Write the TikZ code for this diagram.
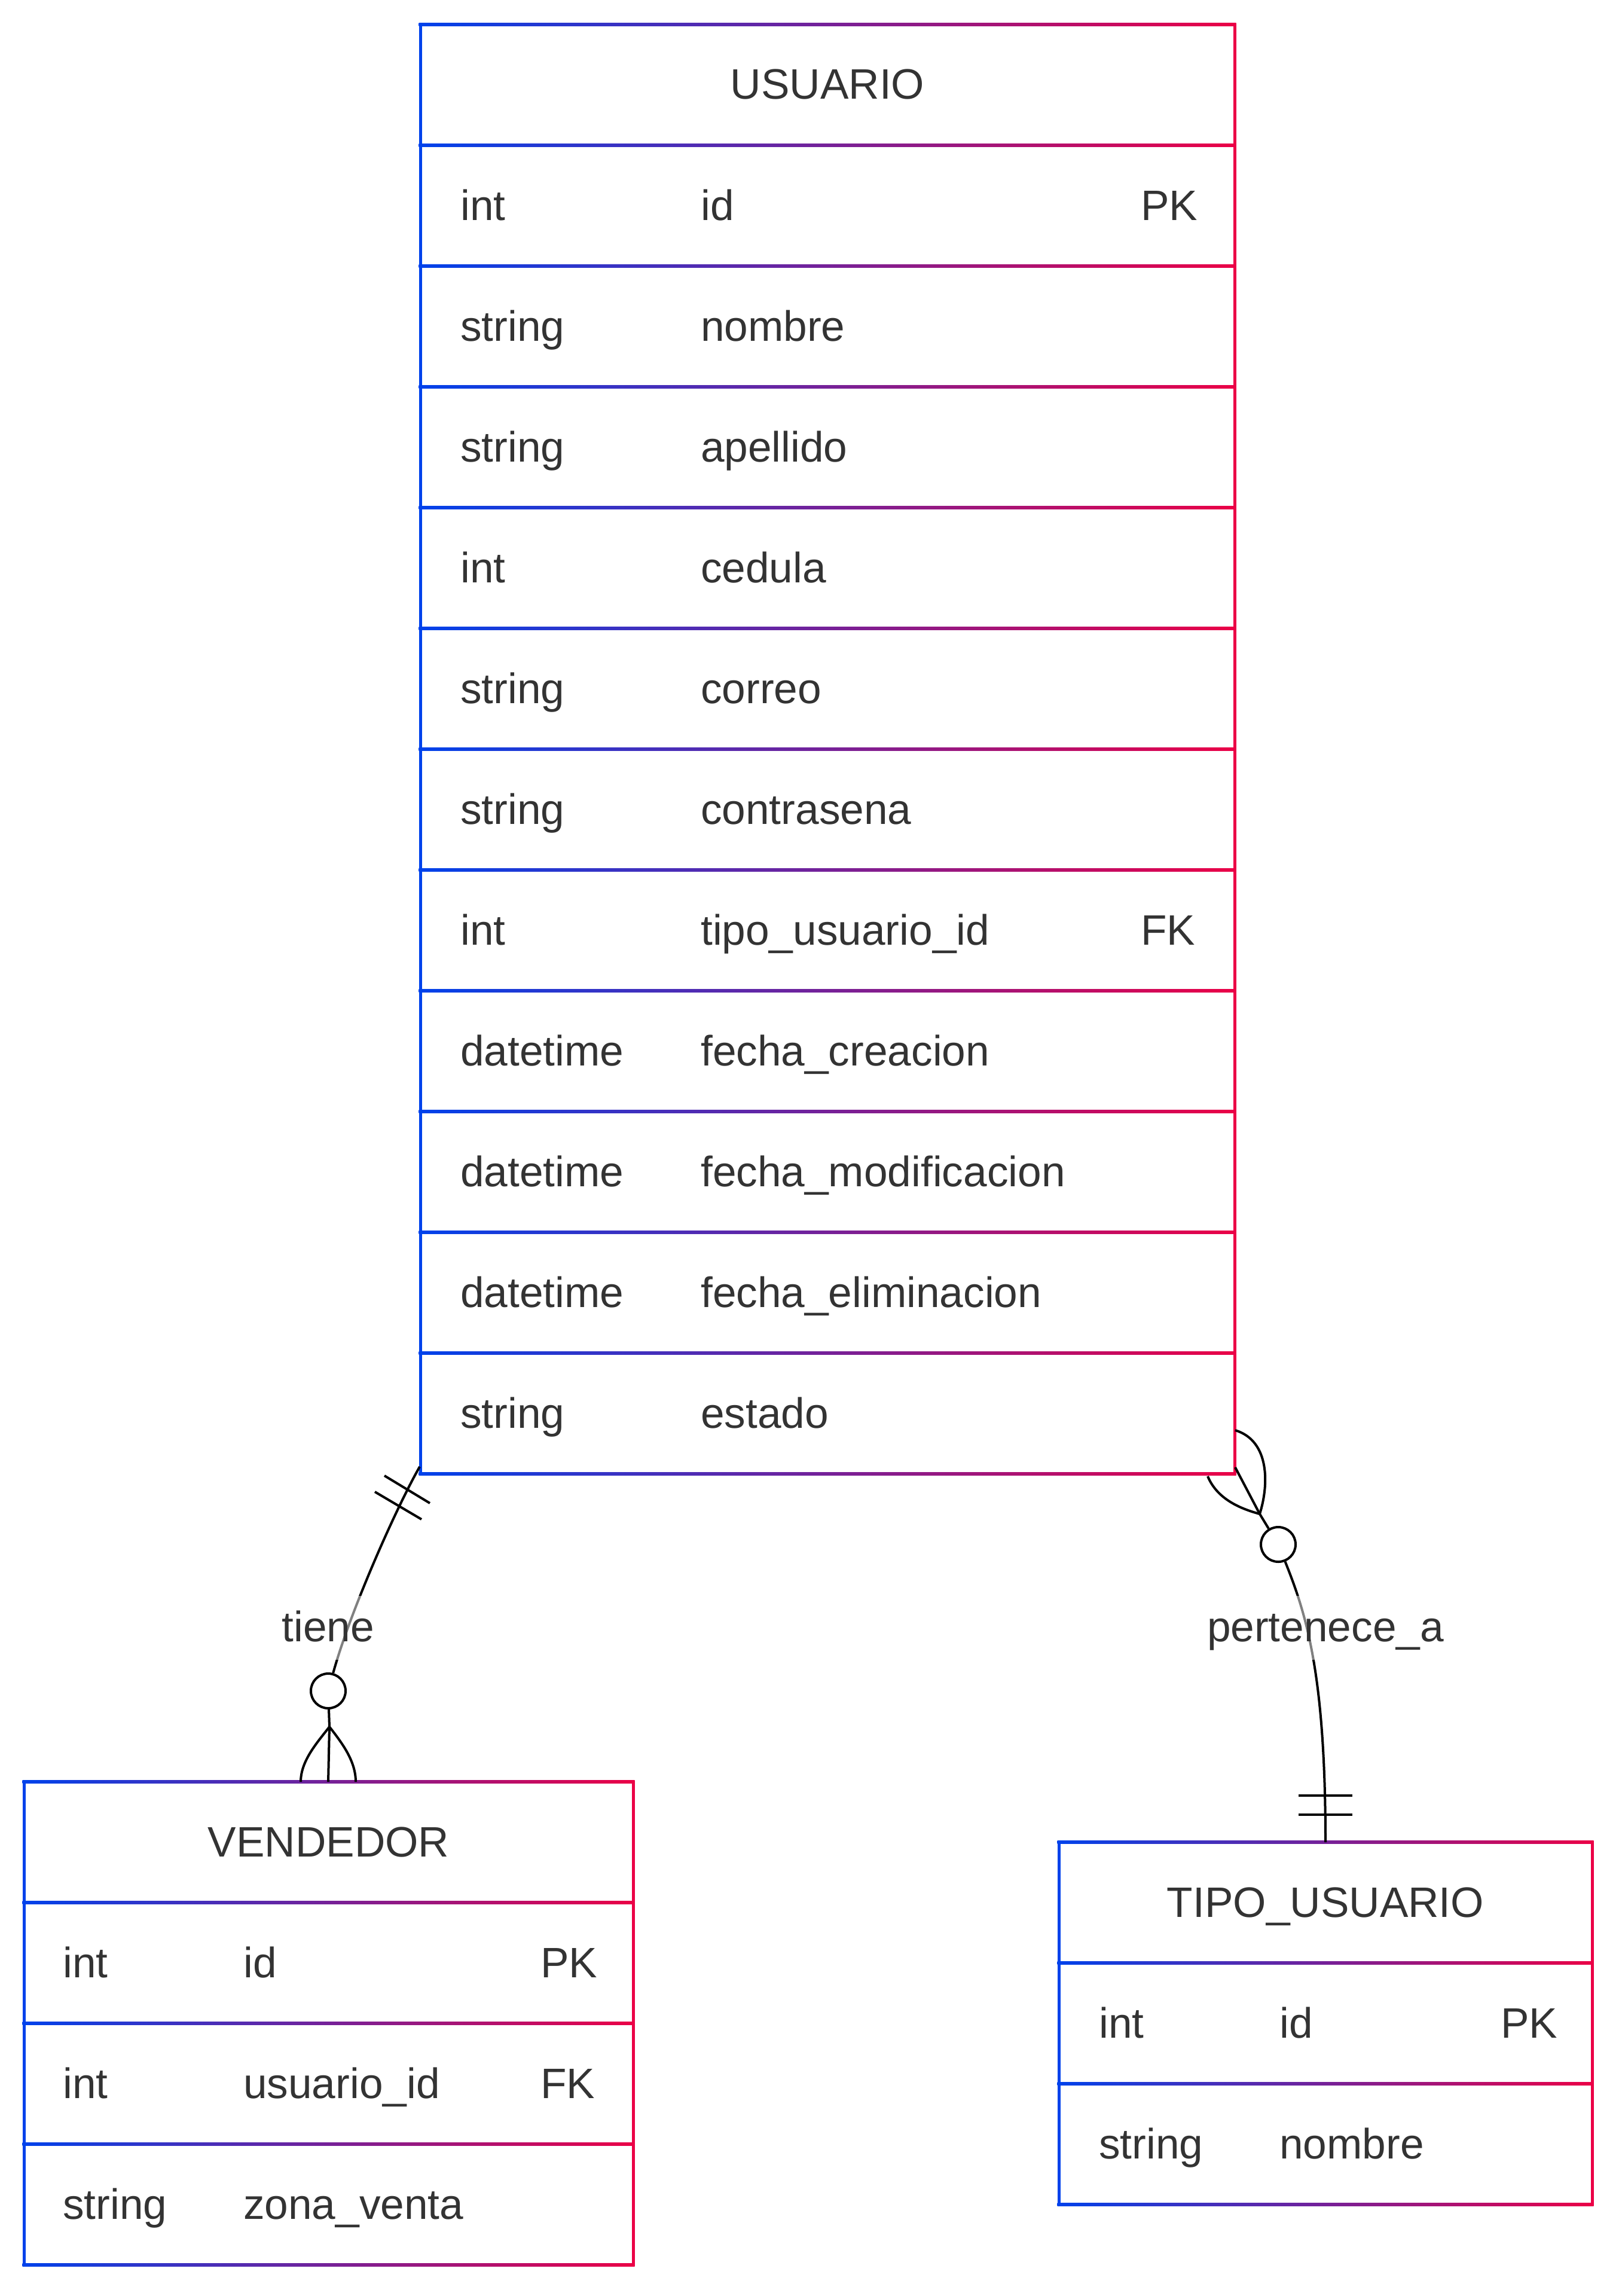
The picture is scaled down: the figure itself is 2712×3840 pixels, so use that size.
\documentclass[tikz,border=0pt]{standalone}
\usepackage{fontspec}
\setmainfont{Liberation Sans}
\definecolor{erblue}{RGB}{0,66,235}
\definecolor{erred}{RGB}{235,0,70}
\definecolor{ertext}{RGB}{51,51,51}
\newcommand{\ERhline}[3]{\shade[left color=erblue,right color=erred] ({#1-2.5},{#3-2.5}) rectangle ({#2+2.5},{#3+2.5});}
\newcommand{\ERframe}[4]{%
  \foreach \k in {0,...,#4}{\ERhline{#1}{#2}{#3+\k*202}}
  \fill[erblue] ({#1-2.5},{#3}) rectangle ({#1+2.5},{#3+#4*202});
  \fill[erred] ({#2-2.5},{#3}) rectangle ({#2+2.5},{#3+#4*202});
}
\begin{document}
\begin{tikzpicture}[x=1pt,y=-1pt,
  entity/.style={rectangle,inner sep=0pt,draw=none},
  txt/.style={font=\fontsize{71.2}{85}\selectfont,text=ertext,inner sep=0pt,anchor=base west},
  ttl/.style={font=\fontsize{71.2}{85}\selectfont,text=ertext,inner sep=0pt,anchor=base},
  conn/.style={line width=4pt,draw=black},
  lbl/.style={font=\fontsize{71.2}{85}\selectfont,text=ertext,fill=white,fill opacity=0.5,text opacity=1,
    inner sep=0pt,inner xsep=4pt,text height=46pt,text depth=0pt,minimum height=107pt},
  erc/.style={circle,draw=black,line width=4pt,fill=white,minimum size=58pt,inner sep=0pt}]
\useasboundingbox (0,0) rectangle (2712,3840);

% ---------- USUARIO ----------
\node[entity,minimum width=1362pt,minimum height=2424pt] (usuario) at (1384,1253) {};
\ERframe{703}{2065}{41}{12}
\node[ttl] (u-title) at (1384,166) {USUARIO};
\foreach \ty/\nm [count=\i] in {int/id,string/nombre,string/apellido,int/cedula,string/correo,
  string/contrasena,int/tipo\_usuario\_id,datetime/fecha\_creacion,datetime/fecha\_modificacion,
  datetime/fecha\_eliminacion,string/estado}{
  \node[txt] (u-ty-\i) at (770,{166+202*\i}) {\ty};
  \node[txt] (u-nm-\i) at (1172,{166+202*\i}) {\nm};
}
\node[txt] (u-k-1) at (1908,368) {PK};
\node[txt] (u-k-7) at (1908,1580) {FK};

% ---------- VENDEDOR ----------
\node[entity,minimum width=1019pt,minimum height=808pt] (vendedor) at (549.5,3384) {};
\ERframe{40}{1059}{2980}{4}
\node[ttl] (v-title) at (549.5,3105) {VENDEDOR};
\foreach \ty/\nm [count=\i] in {int/id,int/usuario\_id,string/zona\_venta}{
  \node[txt] (v-ty-\i) at (105,{3105+202*\i}) {\ty};
  \node[txt] (v-nm-\i) at (407,{3105+202*\i}) {\nm};
}
\node[txt] (v-k-1) at (904,3307) {PK};
\node[txt] (v-k-2) at (904,3509) {FK};

% ---------- TIPO_USUARIO ----------
\node[entity,minimum width=892pt,minimum height=606pt] (tipo) at (2217,3384) {};
\ERframe{1771}{2663}{3081}{3}
\node[ttl] (t-title) at (2217,3206) {TIPO\_USUARIO};
\foreach \ty/\nm [count=\i] in {int/id,string/nombre}{
  \node[txt] (tu-ty-\i) at (1838,{3206+202*\i}) {\ty};
  \node[txt] (tu-nm-\i) at (2140,{3206+202*\i}) {\nm};
}
\node[txt] (tu-k-1) at (2510,3408) {PK};

% ---------- relation: tiene ----------
\coordinate (ti-s) at (702,2453);
\node[erc] (ti-c) at (549,2828) {};
\coordinate (ti-j) at (551,2888);
\coordinate (ti-l) at (503,2980);
\coordinate (ti-m) at (549,2980);
\coordinate (ti-r) at (595,2980);
\coordinate (ti-b1a) at (643,2468);
\coordinate (ti-b1b) at (719,2514);
\coordinate (ti-b2a) at (627,2495);
\coordinate (ti-b2b) at (705,2541);
\draw[conn] (ti-s) .. controls (662,2523) and (585,2697) .. (ti-c);
\draw[conn] (ti-c) -- (ti-j);
\draw[conn] (ti-j) -- (ti-m);
\draw[conn] (ti-j) .. controls (530,2915) and (503,2945) .. (ti-l);
\draw[conn] (ti-j) .. controls (572,2915) and (595,2945) .. (ti-r);
\draw[conn] (ti-b1a) -- (ti-b1b);
\draw[conn] (ti-b2a) -- (ti-b2b);
\node[lbl] (l-tiene) at (549,2722) {tiene};

% ---------- relation: pertenece_a ----------
\coordinate (pe-s) at (2066,2454);
\coordinate (pe-j) at (2107,2532);
\node[erc] (pe-c) at (2138,2583) {};
\coordinate (pe-a) at (2066,2392);
\coordinate (pe-b) at (2020,2469);
\coordinate (pe-e) at (2217,3081);
\coordinate (pe-b1a) at (2172,3003);
\coordinate (pe-b1b) at (2262,3003);
\coordinate (pe-b2a) at (2172,3035);
\coordinate (pe-b2b) at (2262,3035);
\draw[conn] (pe-s) -- (pe-j) -- (pe-c);
\draw[conn] (pe-j) .. controls (2122,2485) and (2125,2410) .. (pe-a);
\draw[conn] (pe-j) .. controls (2070,2522) and (2035,2505) .. (pe-b);
\draw[conn] (pe-c) .. controls (2185,2700) and (2217,2800) .. (pe-e);
\draw[conn] (pe-b1a) -- (pe-b1b);
\draw[conn] (pe-b2a) -- (pe-b2b);
\node[lbl] (l-pert) at (2217,2722) {pertenece\_a};
\end{tikzpicture}
\end{document}
